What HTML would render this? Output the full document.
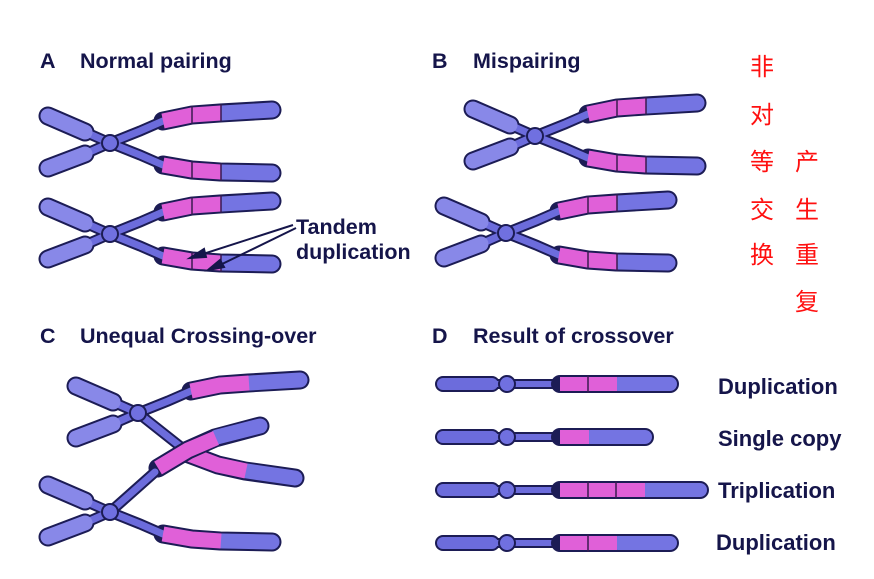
<!DOCTYPE html>
<html><head><meta charset="utf-8"><style>
body{margin:0;background:#fff}
svg{display:block}
.t{font-family:"Liberation Sans",sans-serif;font-weight:bold;fill:#15154a}
.c{font-family:"Liberation Sans","Noto Sans CJK SC",sans-serif;fill:#ff1010;font-size:24px}
</style></head><body>
<svg width="874" height="579" viewBox="0 0 874 579" xmlns="http://www.w3.org/2000/svg">
<defs>
<g id="X" stroke-linecap="round" fill="none">
 <g stroke="#1c1c55">
  <line x1="0" y1="0" x2="-25" y2="-11" stroke-width="11"/><line x1="-25" y1="-11" x2="-62" y2="-27" stroke-width="19"/>
  <line x1="0" y1="0" x2="-25" y2="11" stroke-width="11"/><line x1="-25" y1="11" x2="-62" y2="25" stroke-width="19"/>
  <polyline points="0,0 30,-12 53,-22" stroke-width="11"/><polyline points="53,-22 82,-28 110,-30 162,-33" stroke-width="19"/>
  <polyline points="0,0 30,12 53,22" stroke-width="11"/><polyline points="53,22 82,27 110,29 162,30" stroke-width="19"/>
 </g>
 <line x1="0" y1="0" x2="-25" y2="-11" stroke="#6c6cdc" stroke-width="7"/><line x1="-25" y1="-11" x2="-62" y2="-27" stroke="#8888e8" stroke-width="15"/>
 <line x1="0" y1="0" x2="-25" y2="11" stroke="#6c6cdc" stroke-width="7"/><line x1="-25" y1="11" x2="-62" y2="25" stroke="#8888e8" stroke-width="15"/>
 <polyline points="0,0 30,-12 53,-22" stroke="#6c6cdc" stroke-width="7"/>
 <polyline points="0,0 30,12 53,22" stroke="#6c6cdc" stroke-width="7"/>
 <line x1="112" y1="-30" x2="162" y2="-33" stroke="#7474e2" stroke-width="15"/>
 <line x1="112" y1="29" x2="162" y2="30" stroke="#7474e2" stroke-width="15"/>
 <g stroke-linecap="butt" stroke-width="15">
  <polyline points="53,-22 82,-28 111,-30" stroke="#e060d8"/>
  <polyline points="53,22 82,27 111,29" stroke="#e060d8"/>
 </g>
 <g stroke="#3a1a50" stroke-width="1.5">
  <line x1="82" y1="-36" x2="82" y2="-20"/><line x1="111" y1="-38" x2="111" y2="-22"/>
  <line x1="82" y1="19" x2="82" y2="35"/><line x1="111" y1="21" x2="111" y2="37"/>
 </g>
 <circle r="8" fill="#7070e0" stroke="#1c1c55" stroke-width="2"/>
</g>
<g id="L" stroke-linecap="round" fill="none">
 <g stroke="#1c1c55">
  <line x1="0" y1="0" x2="-25" y2="-11" stroke-width="11"/><line x1="-25" y1="-11" x2="-62" y2="-27" stroke-width="19"/>
  <line x1="0" y1="0" x2="-25" y2="11" stroke-width="11"/><line x1="-25" y1="11" x2="-62" y2="25" stroke-width="19"/>
 </g>
 <line x1="0" y1="0" x2="-25" y2="-11" stroke="#6c6cdc" stroke-width="7"/><line x1="-25" y1="-11" x2="-62" y2="-27" stroke="#8888e8" stroke-width="15"/>
 <line x1="0" y1="0" x2="-25" y2="11" stroke="#6c6cdc" stroke-width="7"/><line x1="-25" y1="11" x2="-62" y2="25" stroke="#8888e8" stroke-width="15"/>
</g>
<g id="R" stroke-linecap="round" fill="none">
 <line x1="-64" y1="0" x2="-15" y2="0" stroke="#1c1c55" stroke-width="16"/>
 <line x1="-15" y1="0" x2="53" y2="0" stroke="#1c1c55" stroke-width="10"/>
 <line x1="-64" y1="0" x2="-15" y2="0" stroke="#6c6cdc" stroke-width="12"/>
 <line x1="-15" y1="0" x2="53" y2="0" stroke="#6c6cdc" stroke-width="6"/>
 <circle r="8" fill="#7070e0" stroke="#1c1c55" stroke-width="2"/>
</g>
</defs>

<!-- Panel A -->
<text class="t" x="40" y="68" font-size="21.5">A</text>
<text class="t" x="80" y="68" font-size="21.5">Normal pairing</text>
<use href="#X" x="110" y="143"/>
<use href="#X" x="110" y="234"/>
<g stroke="#15154a" stroke-width="2" fill="#15154a">
 <line x1="293" y1="225" x2="200" y2="255"/><polygon points="190,258 204,249 206,257"/>
 <line x1="296" y1="228" x2="218" y2="266"/><polygon points="208,270 220,260 224,267"/>
</g>
<text class="t" x="296" y="234" font-size="21.5">Tandem</text>
<text class="t" x="296" y="259" font-size="21.5">duplication</text>

<!-- Panel B -->
<text class="t" x="432" y="68" font-size="21.5">B</text>
<text class="t" x="473" y="68" font-size="21.5">Mispairing</text>
<use href="#X" x="535" y="136"/>
<use href="#X" x="506" y="233"/>

<!-- Chinese -->
<text class="c" x="750" y="75">非</text>
<text class="c" x="750" y="123">对</text>
<text class="c" x="750" y="170">等</text>
<text class="c" x="750" y="218">交</text>
<text class="c" x="750" y="263">换</text>
<text class="c" x="795" y="170">产</text>
<text class="c" x="795" y="218">生</text>
<text class="c" x="795" y="263">重</text>
<text class="c" x="795" y="310">复</text>

<!-- Panel C -->
<text class="t" x="40" y="343" font-size="21.5">C</text>
<text class="t" x="80" y="343" font-size="21.5">Unequal Crossing-over</text>
<g stroke-linecap="round" fill="none">
 <g transform="translate(138,413)">
  <line x1="0" y1="0" x2="48" y2="38" stroke="#1c1c55" stroke-width="11"/>
  <polyline points="48,40 80,52 107,58 157,65" stroke="#1c1c55" stroke-width="19"/>
  <line x1="0" y1="0" x2="48" y2="38" stroke="#6c6cdc" stroke-width="7"/>
  <line x1="109" y1="58" x2="157" y2="65" stroke="#7474e2" stroke-width="15"/>
  <polyline points="48,40 80,52 108,58" stroke="#e060d8" stroke-width="15" stroke-linecap="butt"/>
 </g>
 <g transform="translate(110,512)">
  <line x1="0" y1="0" x2="45" y2="-40" stroke="#1c1c55" stroke-width="11"/>
  <polyline points="48,-44 78,-62 105,-74 150,-86" stroke="#1c1c55" stroke-width="19"/>
  <line x1="0" y1="0" x2="45" y2="-40" stroke="#6c6cdc" stroke-width="7"/>
  <line x1="107" y1="-75" x2="150" y2="-86" stroke="#7474e2" stroke-width="15"/>
  <polyline points="48,-44 78,-62 106,-74" stroke="#e060d8" stroke-width="15" stroke-linecap="butt"/>
 </g>
</g>
<use href="#L" x="138" y="413"/>
<g transform="translate(138,413)" stroke-linecap="round" fill="none">
  <polyline points="0,0 30,-12 53,-22" stroke="#1c1c55" stroke-width="11"/><polyline points="53,-22 82,-28 110,-30 162,-33" stroke="#1c1c55" stroke-width="19"/>
  <polyline points="0,0 30,-12 53,-22" stroke="#6c6cdc" stroke-width="7"/>
  <line x1="112" y1="-30" x2="162" y2="-33" stroke="#7474e2" stroke-width="15"/>
  <polyline points="53,-22 82,-28 111,-30" stroke="#e060d8" stroke-width="15" stroke-linecap="butt"/>
  <circle r="8" fill="#7070e0" stroke="#1c1c55" stroke-width="2"/>
</g>
<use href="#L" x="110" y="512"/>
<g transform="translate(110,512)" stroke-linecap="round" fill="none">
  <polyline points="0,0 30,12 53,22" stroke="#1c1c55" stroke-width="11"/><polyline points="53,22 82,27 110,29 162,30" stroke="#1c1c55" stroke-width="19"/>
  <polyline points="0,0 30,12 53,22" stroke="#6c6cdc" stroke-width="7"/>
  <line x1="112" y1="29" x2="162" y2="30" stroke="#7474e2" stroke-width="15"/>
  <polyline points="53,22 82,27 111,29" stroke="#e060d8" stroke-width="15" stroke-linecap="butt"/>
  <circle r="8" fill="#7070e0" stroke="#1c1c55" stroke-width="2"/>
</g>

<!-- Panel D -->
<text class="t" x="432" y="343" font-size="21.5">D</text>
<text class="t" x="473" y="343" font-size="21.5">Result of crossover</text>
<g stroke-linecap="round" fill="none">
 <g transform="translate(507,384)">
  <use href="#R"/>
  <line x1="53" y1="0" x2="163" y2="0" stroke="#1c1c55" stroke-width="18"/>
  <line x1="111" y1="0" x2="163" y2="0" stroke="#7474e2" stroke-width="14"/>
  <line x1="53" y1="0" x2="110" y2="0" stroke="#e060d8" stroke-width="14" stroke-linecap="butt"/>
  <line x1="81" y1="-8" x2="81" y2="8" stroke="#3a1a50" stroke-width="1.5"/>
 </g>
 <g transform="translate(507,437)">
  <use href="#R"/>
  <line x1="53" y1="0" x2="138" y2="0" stroke="#1c1c55" stroke-width="18"/>
  <line x1="83" y1="0" x2="138" y2="0" stroke="#7474e2" stroke-width="14"/>
  <line x1="53" y1="0" x2="82" y2="0" stroke="#e060d8" stroke-width="14" stroke-linecap="butt"/>
 </g>
 <g transform="translate(507,490)">
  <use href="#R"/>
  <line x1="53" y1="0" x2="193" y2="0" stroke="#1c1c55" stroke-width="18"/>
  <line x1="139" y1="0" x2="193" y2="0" stroke="#7474e2" stroke-width="14"/>
  <line x1="53" y1="0" x2="138" y2="0" stroke="#e060d8" stroke-width="14" stroke-linecap="butt"/>
  <line x1="81" y1="-8" x2="81" y2="8" stroke="#3a1a50" stroke-width="1.5"/>
  <line x1="109" y1="-8" x2="109" y2="8" stroke="#3a1a50" stroke-width="1.5"/>
 </g>
 <g transform="translate(507,543)">
  <use href="#R"/>
  <line x1="53" y1="0" x2="163" y2="0" stroke="#1c1c55" stroke-width="18"/>
  <line x1="111" y1="0" x2="163" y2="0" stroke="#7474e2" stroke-width="14"/>
  <line x1="53" y1="0" x2="110" y2="0" stroke="#e060d8" stroke-width="14" stroke-linecap="butt"/>
  <line x1="81" y1="-8" x2="81" y2="8" stroke="#3a1a50" stroke-width="1.5"/>
 </g>
</g>
<text class="t" x="718" y="394" font-size="22">Duplication</text>
<text class="t" x="718" y="446" font-size="22">Single copy</text>
<text class="t" x="718" y="498" font-size="22">Triplication</text>
<text class="t" x="716" y="550" font-size="22">Duplication</text>
</svg>
</body></html>
